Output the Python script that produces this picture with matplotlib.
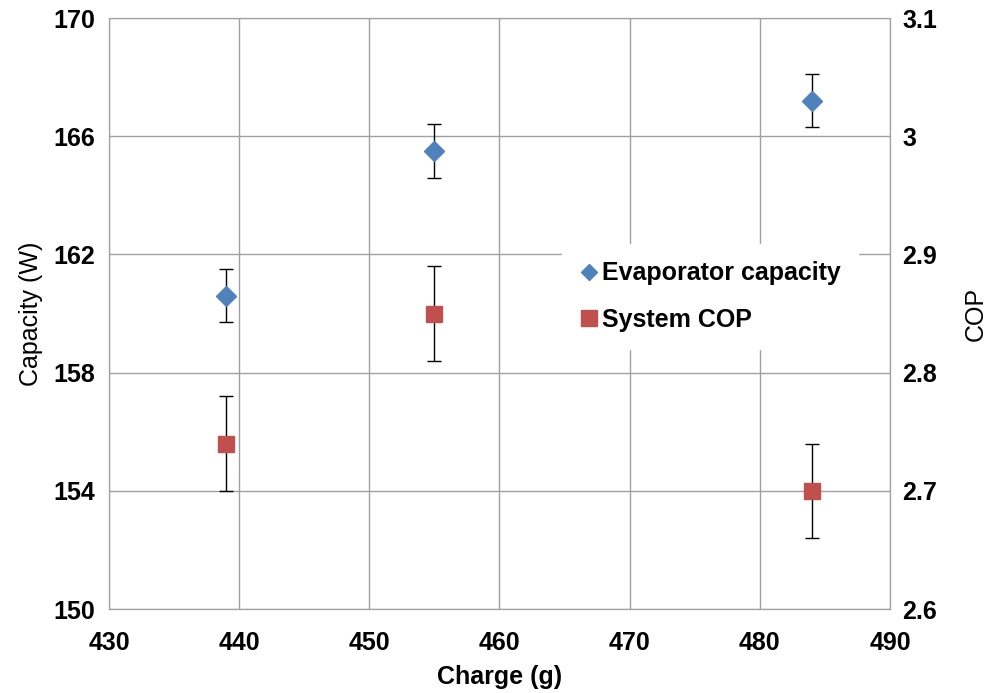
import matplotlib.pyplot as plt
from matplotlib.lines import Line2D

# Datos
carga = [439, 455, 484]                     # Charge (g)
capacidad = [160.6, 165.5, 167.2]           # Evaporator capacity (W)
err_capacidad = [0.9, 0.9, 0.9]
cop = [2.74, 2.85, 2.70]                    # System COP
err_cop = [0.04, 0.04, 0.04]

plt.rcParams['font.family'] = ['Liberation Sans', 'DejaVu Sans']

fig, ax = plt.subplots(figsize=(9.86, 6.93), dpi=100)
fig.subplots_adjust(left=0.1105, right=0.9026, top=0.974, bottom=0.1212)
ax2 = ax.twinx()

azul = '#4F81BD'
rojo = '#C0504D'

ax.errorbar(carga, capacidad, yerr=err_capacidad, fmt='D', color=azul, ms=10,
            ecolor='black', elinewidth=1, capsize=5, capthick=1, zorder=3)
ax2.errorbar(carga, cop, yerr=err_cop, fmt='s', color=rojo, ms=12,
             ecolor='black', elinewidth=1, capsize=5, capthick=1, zorder=3)

ax.set_xlim(430, 490)
ax.set_ylim(150, 170)
ax2.set_ylim(2.6, 3.1)
ax.set_xticks(range(430, 491, 10))
ax.set_yticks(range(150, 171, 4))
ax2.set_yticks([2.6, 2.7, 2.8, 2.9, 3.0, 3.1])
ax2.set_yticklabels(['2.6', '2.7', '2.8', '2.9', '3', '3.1'])

ax.grid(True, color='#A0A0A0', linewidth=1)
ax.set_axisbelow(True)
for a in (ax, ax2):
    for s in a.spines.values():
        s.set_color('#A0A0A0')
    a.tick_params(length=0, labelsize=18)
    for lbl in a.get_xticklabels() + a.get_yticklabels():
        lbl.set_fontweight('bold')
ax.tick_params(axis='x', pad=16)
ax.tick_params(axis='y', pad=10)
ax2.tick_params(axis='y', pad=9)

ax.set_xlabel('Charge (g)', fontsize=18, fontweight='bold', labelpad=7)
ax.set_ylabel('Capacity (W)', fontsize=18, labelpad=7)
ax2.set_ylabel('COP', fontsize=18, labelpad=19)

manejadores = [
    Line2D([], [], marker='D', color=azul, linestyle='none', ms=8),
    Line2D([], [], marker='s', color=rojo, linestyle='none', ms=11),
]
leg = ax2.legend(manejadores, ['Evaporator capacity', 'System COP'],
                 loc='upper left', bbox_to_anchor=(0.58, 0.618),
                 frameon=True, fancybox=False, framealpha=1,
                 handlelength=0.8, handletextpad=0.1, labelspacing=0.9,
                 borderpad=0.7, borderaxespad=0,
                 prop={'size': 18, 'weight': 'bold'})
leg.get_frame().set_edgecolor('white')
leg.set_zorder(5)

plt.savefig('out.png', dpi=100)
